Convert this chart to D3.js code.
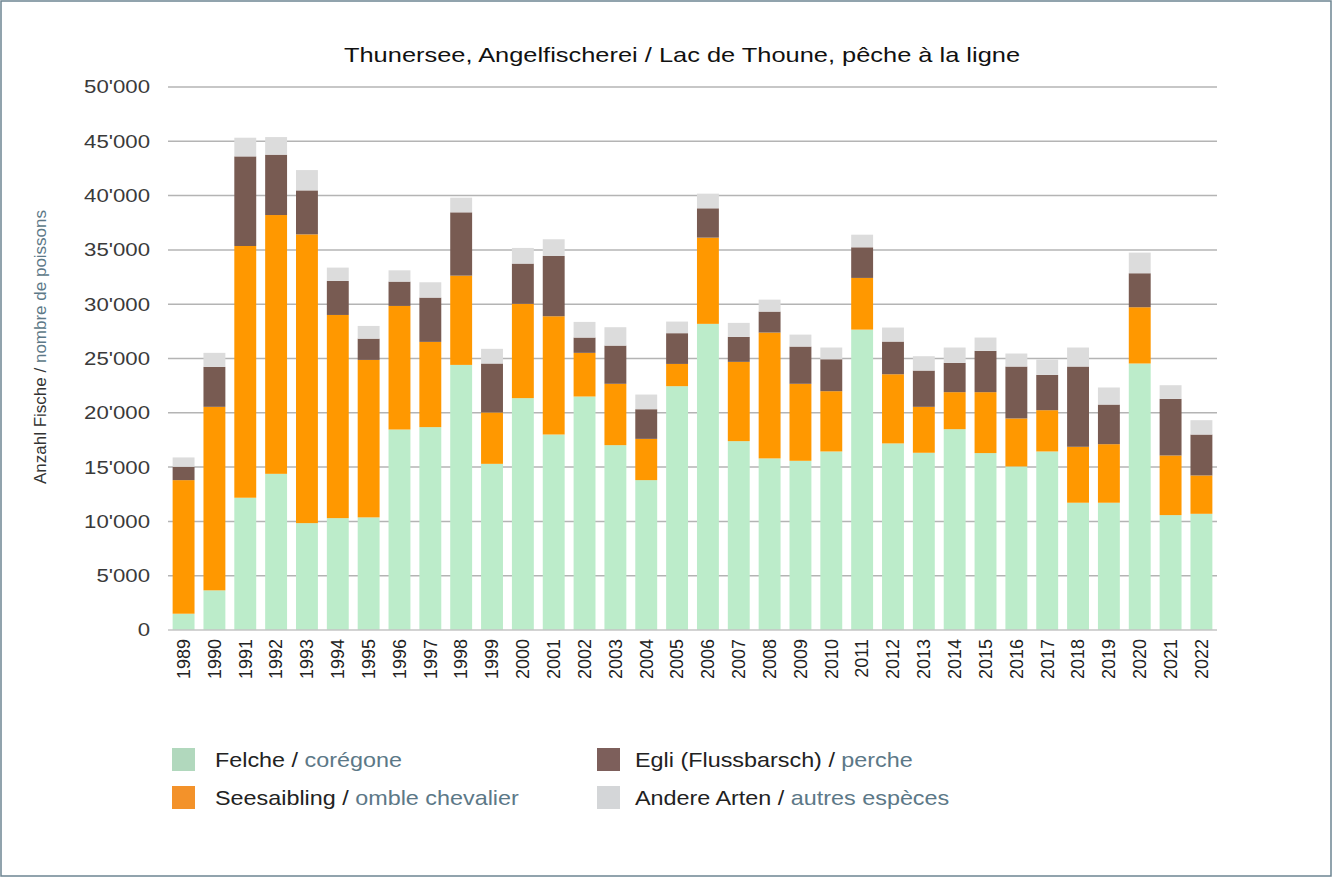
<!DOCTYPE html>
<html>
<head>
<meta charset="utf-8">
<script src="https://cdn.jsdelivr.net/npm/d3@7"></script>
<style>
  body { margin: 0; background: #fff; }
  svg { font-family: "Liberation Sans", Arial, sans-serif; }
</style>
</head>
<body>
<div id="chart"></div>
<script>
// data
var years = ["1989","1990","1991","1992","1993","1994","1995","1996","1997","1998","1999","2000",
    "2001","2002","2003","2004","2005","2006","2007","2008","2009","2010","2011","2012","2013",
    "2014","2015","2016","2017","2018","2019","2020","2021","2022"];

var felche = [1500, 3650, 12180, 14380, 9840, 10300, 10370, 18460, 18680, 24410, 15300, 21350,
    18000, 21500, 17020, 13800, 22450, 28190, 17390, 15800, 15580, 16440, 27660, 17180, 16320,
    18490, 16290, 15060, 16440, 11720, 11720, 24540, 10580, 10700];

var seesaibling = [12300, 16900, 23180, 23830, 26590, 18710, 14500, 11380, 7850, 8220, 4730, 8680,
    10890, 4020, 5650, 3800, 2050, 7940, 7300, 11590, 7090, 5550, 4760, 6370, 4230,
    3410, 5610, 4420, 3800, 5150, 5390, 5180, 5490, 3530];

var egli = [1230, 3680, 8250, 5560, 4050, 3130, 1960, 2240, 4080, 5830, 4510, 3710,
    5550, 1410, 3520, 2730, 2830, 2700, 2300, 1930, 3430, 2940, 2820, 3010, 3340,
    2700, 3800, 4780, 3250, 7390, 3650, 3130, 5210, 3770];

var andere = [860, 1290, 1720, 1620, 1870, 1230, 1170, 1040, 1410, 1350, 1350, 1440,
    1540, 1440, 1690, 1350, 1070, 1350, 1290, 1100, 1100, 1080, 1160, 1290, 1320,
    1410, 1230, 1200, 1410, 1750, 1570, 1900, 1260, 1320];

var yTicks = [0, 5000, 10000, 15000, 20000, 25000, 30000, 35000, 40000, 45000, 50000];

var series = [
    {key: "felche", de: "Felche", fr: "corégone", color: "#bcecca", swatch: "#b1d8bd", values: felche},
    {key: "see", de: "Seesaibling", fr: "omble chevalier", color: "#ff9800", swatch: "#f3922a", values: seesaibling},
    {key: "egli", de: "Egli (Flussbarsch)", fr: "perche", color: "#785b52", swatch: "#7d5f5b", values: egli},
    {key: "andere", de: "Andere Arten", fr: "autres espèces", color: "#dcdcdc", swatch: "#d4d6d8", values: andere}
];

var W = 1333, H = 878;
var plot = {left: 168, right: 1217, top: 87, bottom: 630};
var stretch = 1.2; // reference text is drawn wider than Liberation Sans

var svg = d3.select("#chart").append("svg").attr("width", W).attr("height", H);

// outer frame
svg.append("rect")
    .attr("x", 1).attr("y", 1).attr("width", W - 3).attr("height", H - 3)
    .attr("fill", "#fff").attr("stroke", "#6d8592").attr("stroke-width", 1.5);

// title
svg.append("text")
    .attr("transform", "translate(682,62) scale(1.24,1)")
    .attr("text-anchor", "middle")
    .attr("font-size", 20.5)
    .attr("fill", "#111")
    .text("Thunersee, Angelfischerei / Lac de Thoune, pêche à la ligne");

// build table for the stack
var table = years.map(function (y, i) {
    var row = {year: y};
    series.forEach(function (s) { row[s.key] = s.values[i]; });
    return row;
});

var stack = d3.stack().keys(series.map(function (s) { return s.key; }));
var stacked = stack(table);

var x = d3.scaleBand().domain(years).range([plot.left, plot.right])
    .paddingInner(0.29).paddingOuter(0.15);
var y = d3.scaleLinear().domain([0, 50000]).range([plot.bottom, plot.top]);

// gridlines
svg.append("g").selectAll("line")
    .data(yTicks.slice(1))
    .join("line")
    .attr("x1", plot.left).attr("x2", plot.right)
    .attr("y1", function (d) { return y(d); })
    .attr("y2", function (d) { return y(d); })
    .attr("stroke", "#b4b4b4").attr("stroke-width", 1.5);

// y axis labels
var fmt = function (d) { return d3.format(",")(d).replace(/,/g, "'"); };
var yAxis = svg.append("g")
    .attr("transform", "translate(150,0)")
    .call(d3.axisLeft(y).tickValues(yTicks).tickFormat(fmt).tickSize(0));
yAxis.select(".domain").remove();
yAxis.selectAll("text")
    .attr("font-size", 18.5).attr("fill", "#3a3a3a")
    .attr("font-family", "Liberation Sans, Arial, sans-serif")
    .attr("x", 0)
    .attr("transform", "scale(" + stretch + ",1)");

// bars
svg.append("g").selectAll("g")
    .data(stacked)
    .join("g")
    .attr("fill", function (d, i) { return series[i].color; })
    .selectAll("rect")
    .data(function (d) { return d; })
    .join("rect")
    .attr("x", function (d) { return x(d.data.year); })
    .attr("width", x.bandwidth())
    .attr("y", function (d) { return y(d[1]); })
    .attr("height", function (d) { return y(d[0]) - y(d[1]); });

// baseline
svg.append("line")
    .attr("x1", plot.left).attr("x2", plot.right)
    .attr("y1", plot.bottom).attr("y2", plot.bottom)
    .attr("stroke", "#c4c4c4").attr("stroke-width", 1.5);

// x axis labels (rotated)
var xAxis = svg.append("g")
    .attr("transform", "translate(0," + plot.bottom + ")")
    .call(d3.axisBottom(x).tickSize(0));
xAxis.select(".domain").remove();
xAxis.selectAll("text")
    .attr("font-size", 18).attr("fill", "#222")
    .attr("font-family", "Liberation Sans, Arial, sans-serif")
    .attr("transform", "rotate(-90)")
    .attr("text-anchor", "end")
    .attr("x", -9).attr("y", 0).attr("dy", "0.35em");

// y axis title
var yTitle = svg.append("text")
    .attr("transform", "translate(46,347) rotate(-90)")
    .attr("text-anchor", "middle")
    .attr("font-size", 17);
yTitle.append("tspan").attr("fill", "#333").text("Anzahl Fische / ");
yTitle.append("tspan").attr("fill", "#5c7887").text("nombre de poissons");

// legend
var legendPos = [
    {x: 172, y: 748, tx: 215}, {x: 172, y: 786, tx: 215},
    {x: 597, y: 748, tx: 635}, {x: 597, y: 786, tx: 635}
];
var legend = svg.append("g").selectAll("g")
    .data(series)
    .join("g");

legend.append("rect")
    .attr("x", function (d, i) { return legendPos[i].x; })
    .attr("y", function (d, i) { return legendPos[i].y; })
    .attr("width", 23).attr("height", 23)
    .attr("fill", function (d) { return d.swatch; });

var lt = legend.append("text")
    .attr("transform", function (d, i) {
        return "translate(" + legendPos[i].tx + "," + (legendPos[i].y + 12) + ") scale(1.14,1)";
    })
    .attr("dy", "0.35em")
    .attr("font-size", 20.5);
lt.append("tspan").attr("fill", "#222").text(function (d) { return d.de + " / "; });
lt.append("tspan").attr("fill", "#5c7887").text(function (d) { return d.fr; });
</script>
</body>
</html>
